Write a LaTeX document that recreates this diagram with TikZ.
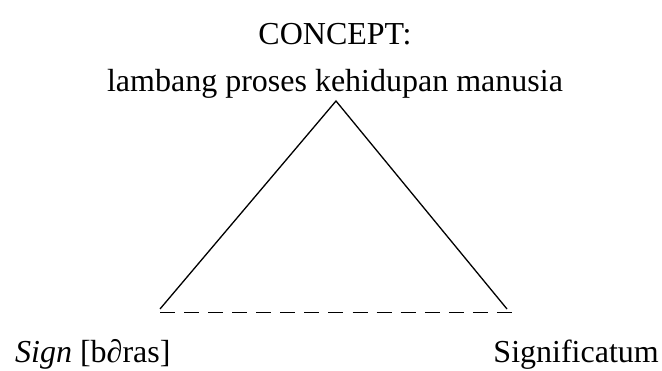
\documentclass[tikz,border=0pt]{standalone}
\usepackage{fontspec}
\setmainfont{Liberation Serif}
\begin{document}
\begin{tikzpicture}[x=1pt,y=-1pt,
  lbl/.style={inner sep=0pt,font=\fontsize{32}{36}\selectfont},
  side/.style={line width=1.3pt},
  base/.style={line width=1.3pt,dash pattern=on 15pt off 9.07pt}]
\useasboundingbox (0,0) rectangle (662,371);
% labels
\node[lbl,anchor=base] (concept) at (335,45) {CONCEPT:};
\node[lbl,anchor=base] (meaning) at (335,92) {lambang proses kehidupan manusia};
\node[lbl,anchor=base west] (sign) at (15,363) {\textit{Sign} [b∂ras]};
\node[lbl,anchor=base east] (signif) at (659,363) {Significatum};
% triangle
\coordinate (apex) at (336,101);
\coordinate (bl) at (160,309);
\coordinate (br) at (507,309);
\coordinate (dl) at (160,312.5);
\coordinate (dr) at (512,312.5);
\draw[side] (bl) -- (apex) -- (br);
\draw[base] (dl) -- (dr);
\end{tikzpicture}
\end{document}
